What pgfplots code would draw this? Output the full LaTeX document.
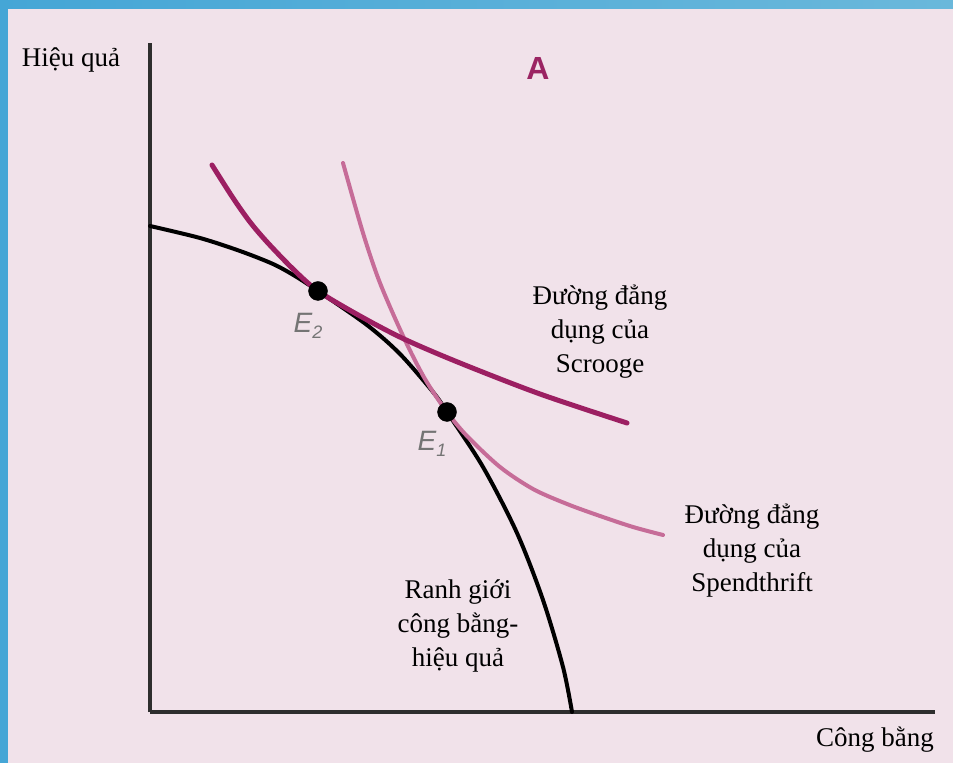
\documentclass[border=0pt]{standalone}
\usepackage{pgfplots}
\pgfplotsset{compat=1.18}
\usepackage{fontspec}
\setmainfont{Liberation Serif}
\setsansfont{Liberation Sans}
\definecolor{bgpink}{HTML}{F1E2EA}
\definecolor{scrooge}{HTML}{9C1F62}
\definecolor{spend}{HTML}{C66C98}
\definecolor{bluebar}{HTML}{45A6D6}
\definecolor{bluebarlight}{HTML}{6AB8DB}
\definecolor{axisgray}{HTML}{2E2E2E}
\definecolor{elab}{HTML}{747474}
\definecolor{alab}{HTML}{9B2463}
\begin{document}
\begin{tikzpicture}[x=1pt,y=1pt]
\useasboundingbox (0,0) rectangle (953,763);
\fill[bgpink] (0,0) rectangle (953,763);
\shade[left color=bluebar, right color=bluebarlight] (0,754) rectangle (953,763);
\fill[bluebar] (0,0) rectangle (8,763);
\begin{axis}[
  at={(150pt,51pt)}, anchor=south west,
  scale only axis, width=785pt, height=669pt,
  xmin=0, xmax=785, ymin=0, ymax=669,
  axis x line=bottom, axis y line=left,
  axis line style={-, line width=3.6pt, color=axisgray},
  xtick=\empty, ytick=\empty,
  clip=false,
]
% frontier
\addplot[black, line width=4pt, smooth, tension=0.5, line cap=round] coordinates {
 (0,486) (50,474) (90,461) (123,448) (145,436) (168,421) (217,387) (250,358)
 (283,320) (297,300) (333,245) (367,179) (393,112) (413,45) (422,0)};
% Spendthrift indifference curve
\addplot[spend, line width=4pt, smooth, tension=0.5, line cap=round] coordinates {
 (193,549) (213,479) (230,429) (254,374) (275,333) (297,300) (317,276) (350,245)
 (383,223) (417,208) (450,196) (483,185) (513,177)};
% Scrooge indifference curve
\addplot[scrooge, line width=5pt, smooth, tension=0.5, line cap=round] coordinates {
 (62,547) (83,514) (100,490) (117,470) (143,443) (168,421) (210,396) (254,373)
 (310,349) (390,318) (477,289)};
% equilibrium points
\addplot[only marks, mark=*, mark size=9.5pt, black] coordinates {(168,421) (297,300)};

\node[font=\fontsize{27}{30}\selectfont] at (axis cs:-79,652) {Hiệu quả};
\node[font=\fontsize{27}{30}\selectfont] at (axis cs:725,-28) {Công bằng};
\node[font=\sffamily\bfseries\fontsize{32}{32}\selectfont, text=alab] at (axis cs:388,644) {A};
\node[font=\fontsize{27}{34}\selectfont, align=center] at (axis cs:450,380) {Đường đẳng\\dụng của\\Scrooge};
\node[font=\fontsize{27}{34}\selectfont, align=center] at (axis cs:602,161) {Đường đẳng\\dụng của\\Spendthrift};
\node[font=\fontsize{27}{34}\selectfont, align=center] at (axis cs:308,86) {Ranh giới\\công bằng-\\hiệu quả};
\node[font=\sffamily\itshape\fontsize{28}{28}\selectfont, text=elab] at (axis cs:158,386) {E\raisebox{-6pt}{\fontsize{18}{18}\selectfont 2}};
\node[font=\sffamily\itshape\fontsize{28}{28}\selectfont, text=elab] at (axis cs:282,268) {E\raisebox{-6pt}{\fontsize{18}{18}\selectfont 1}};
\end{axis}
\end{tikzpicture}
\end{document}
